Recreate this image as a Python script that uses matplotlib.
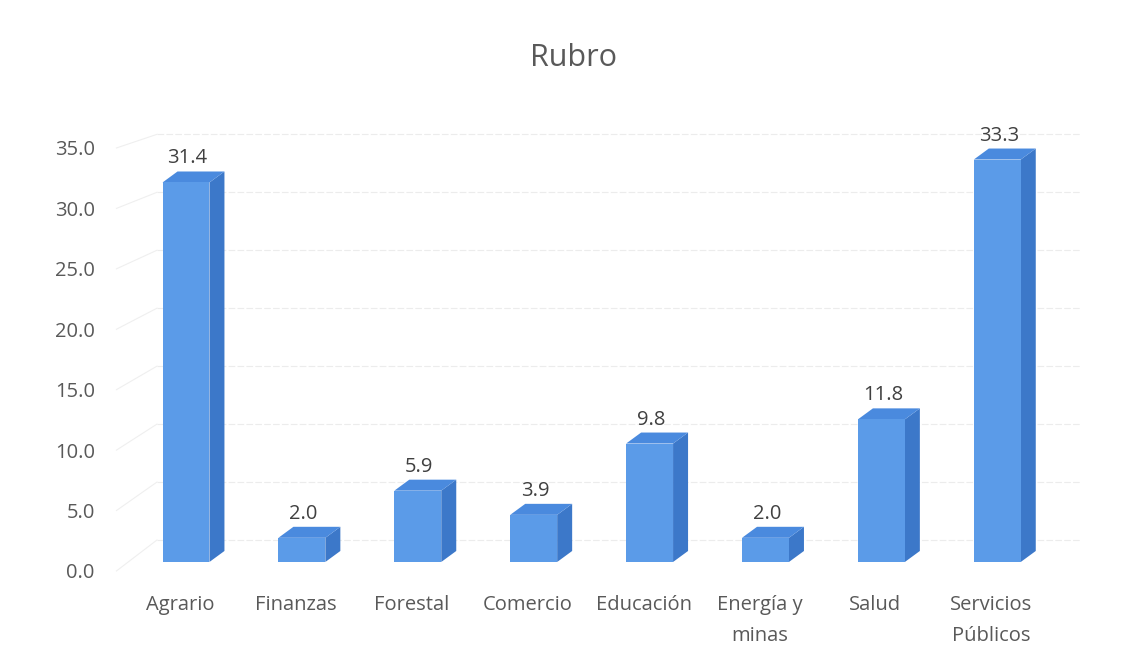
#!/usr/bin/env python3

from matplotlib import pyplot as plt
from matplotlib.patches import Polygon, Rectangle
import numpy as np


categories = ['Agrario', 'Finanzas', 'Forestal', 'Comercio', 'Educación',
              'Energía y\nminas', 'Salud', 'Servicios\nPúblicos']
values     = [31.4, 2.0, 5.9, 3.9, 9.8, 2.0, 11.8, 33.3]
y_ticks    = [0, 5, 10, 15, 20, 25, 30, 35]

FRONT = '#5b9be8'
TOP   = '#4a8ade'
SIDE  = '#3c78c9'
GRAY  = '#595959'

plt.rcParams['font.family'] = ['Open Sans', 'DejaVu Sans']

fig = plt.figure(figsize=(11.28, 6.63), dpi=100)
ax = fig.add_axes([0.1135, 0.1388, 0.822, 0.638])
ax.set_xlim(-0.5, len(categories) - 0.5)
ax.set_ylim(0, 35)
for s in ax.spines.values():
    s.set_visible(False)

# pixel -> data conversion
p0 = ax.transData.transform((0, 0))
p1 = ax.transData.transform((1, 1))
px_x = p1[0] - p0[0]
px_y = p1[1] - p0[1]

# faint "back wall" gridlines of the 3D chart
back0, back_scale = 31 / px_y, 0.959
for t in y_ticks:
    gy = back0 + t * back_scale
    ax.plot([-0.25, 7.71], [gy, gy], color='#ececec', lw=0.8, ls=(0, (6, 2)),
            zorder=0, clip_on=False)
    ax.plot([-0.6, -0.25], [t, gy], color='#efefef', lw=0.8, zorder=0, clip_on=False)

width = 0.405
dx = 15 / px_x
dy = 11 / px_y
base = 9 / px_y

for i, v in enumerate(values):
    x0 = i - width / 2
    x1 = i + width / 2
    y0 = base
    y1 = base + v
    ax.add_patch(Polygon([(x1, y0), (x1 + dx, y0 + dy), (x1 + dx, y1 + dy), (x1, y1)],
                         closed=True, facecolor=SIDE, edgecolor='none', zorder=2, clip_on=False))
    ax.add_patch(Polygon([(x0, y1), (x1, y1), (x1 + dx, y1 + dy), (x0 + dx, y1 + dy)],
                         closed=True, facecolor=TOP, edgecolor='none', zorder=2, clip_on=False))
    ax.add_patch(Rectangle((x0, y0), width, v, facecolor=FRONT, edgecolor='none',
                           zorder=3, clip_on=False))
    ax.text(i + dx * 0.1, y1 + dy + 3 / px_y, f'{v:.1f}', ha='center', va='bottom',
            fontsize=14.5, color='#404040', zorder=4)

ax.set_yticks(y_ticks, [f'{t:.1f}' for t in y_ticks])
ax.set_xticks(np.arange(len(categories)) - 6 / px_x, categories)
ax.tick_params(axis='both', length=0, colors=GRAY, labelsize=14.5)
ax.tick_params(axis='y', pad=24)
ax.tick_params(axis='x', pad=17.5)
for lbl in ax.get_xticklabels():
    lbl.set_linespacing(1.7)

fig.text(0.508, 0.912, 'Rubro', ha='center', va='center', fontsize=22, color=GRAY)

plt.savefig('out.png', dpi=100)
